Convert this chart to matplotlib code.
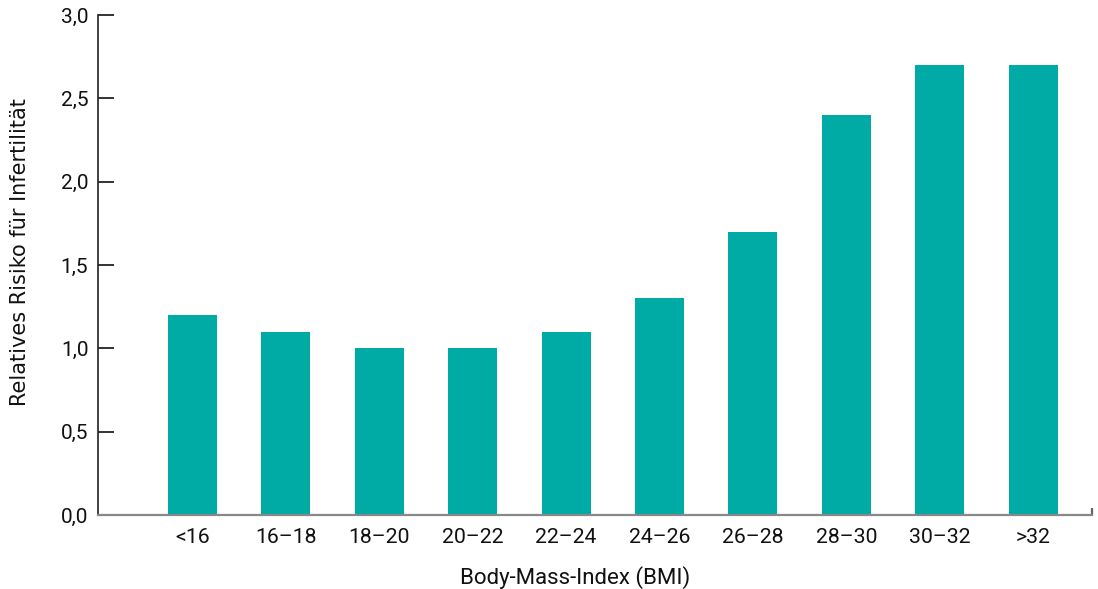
import matplotlib
matplotlib.use("Agg")
import matplotlib.pyplot as plt
from matplotlib.ticker import FuncFormatter

# BMI classes and relative infertility risk
categories = ["<16", "16–18", "18–20", "20–22", "22–24", "24–26", "26–28", "28–30", "30–32", ">32"]
risk = [1.2, 1.1, 1.0, 1.0, 1.1, 1.3, 1.7, 2.4, 2.7, 2.7]
y_ticks = [0.0, 0.5, 1.0, 1.5, 2.0, 2.5, 3.0]

teal = "#00aba5"

W, H = 1098, 589
fig = plt.figure(figsize=(W / 100, H / 100), dpi=100)
ax = fig.add_axes([0.0893, 0.1256, 0.9052, 0.8489])

x = list(range(len(categories)))
ax.bar(x, risk, width=0.525, color=teal, zorder=2)

ax.set_xlim(-1.01, 9.63)
ax.set_ylim(0, 3.0)

ax.set_yticks(y_ticks)
ax.yaxis.set_major_formatter(FuncFormatter(lambda v, p: f"{v:.1f}".replace(".", ",")))
ax.set_xticks(x)
ax.set_xticklabels(categories)

for s in ("top", "right"):
    ax.spines[s].set_visible(False)
ax.spines["left"].set_color("#222222")
ax.spines["left"].set_linewidth(1.2)
ax.spines["bottom"].set_color("#888888")
ax.spines["bottom"].set_linewidth(1.6)

ax.tick_params(axis="y", direction="in", length=11.5, width=1.2, color="#111111",
               labelsize=15, labelcolor="#111111", pad=7)
ax.tick_params(axis="x", length=0, labelsize=15.3, labelcolor="#111111", pad=9)
for lab in ax.get_yticklabels() + ax.get_xticklabels():
    lab.set_fontfamily("Roboto")

# closing tick at the right end of the baseline
ax.plot([1, 1], [0, 0.014], transform=ax.transAxes, color="#666666", lw=1.6,
        clip_on=False, solid_capstyle="butt")

fig.text(20 / W, 1 - 252 / H, "Relatives Risiko für Infertilität", rotation=90,
         ha="center", va="center", fontsize=15, fontfamily="DejaVu Sans", color="#111111")
fig.text(575 / W, 1 - 578 / H, "Body-Mass-Index (BMI)", ha="center", va="center",
         fontsize=16, fontfamily="Roboto", color="#111111")

fig.savefig("out.png", dpi=100)
